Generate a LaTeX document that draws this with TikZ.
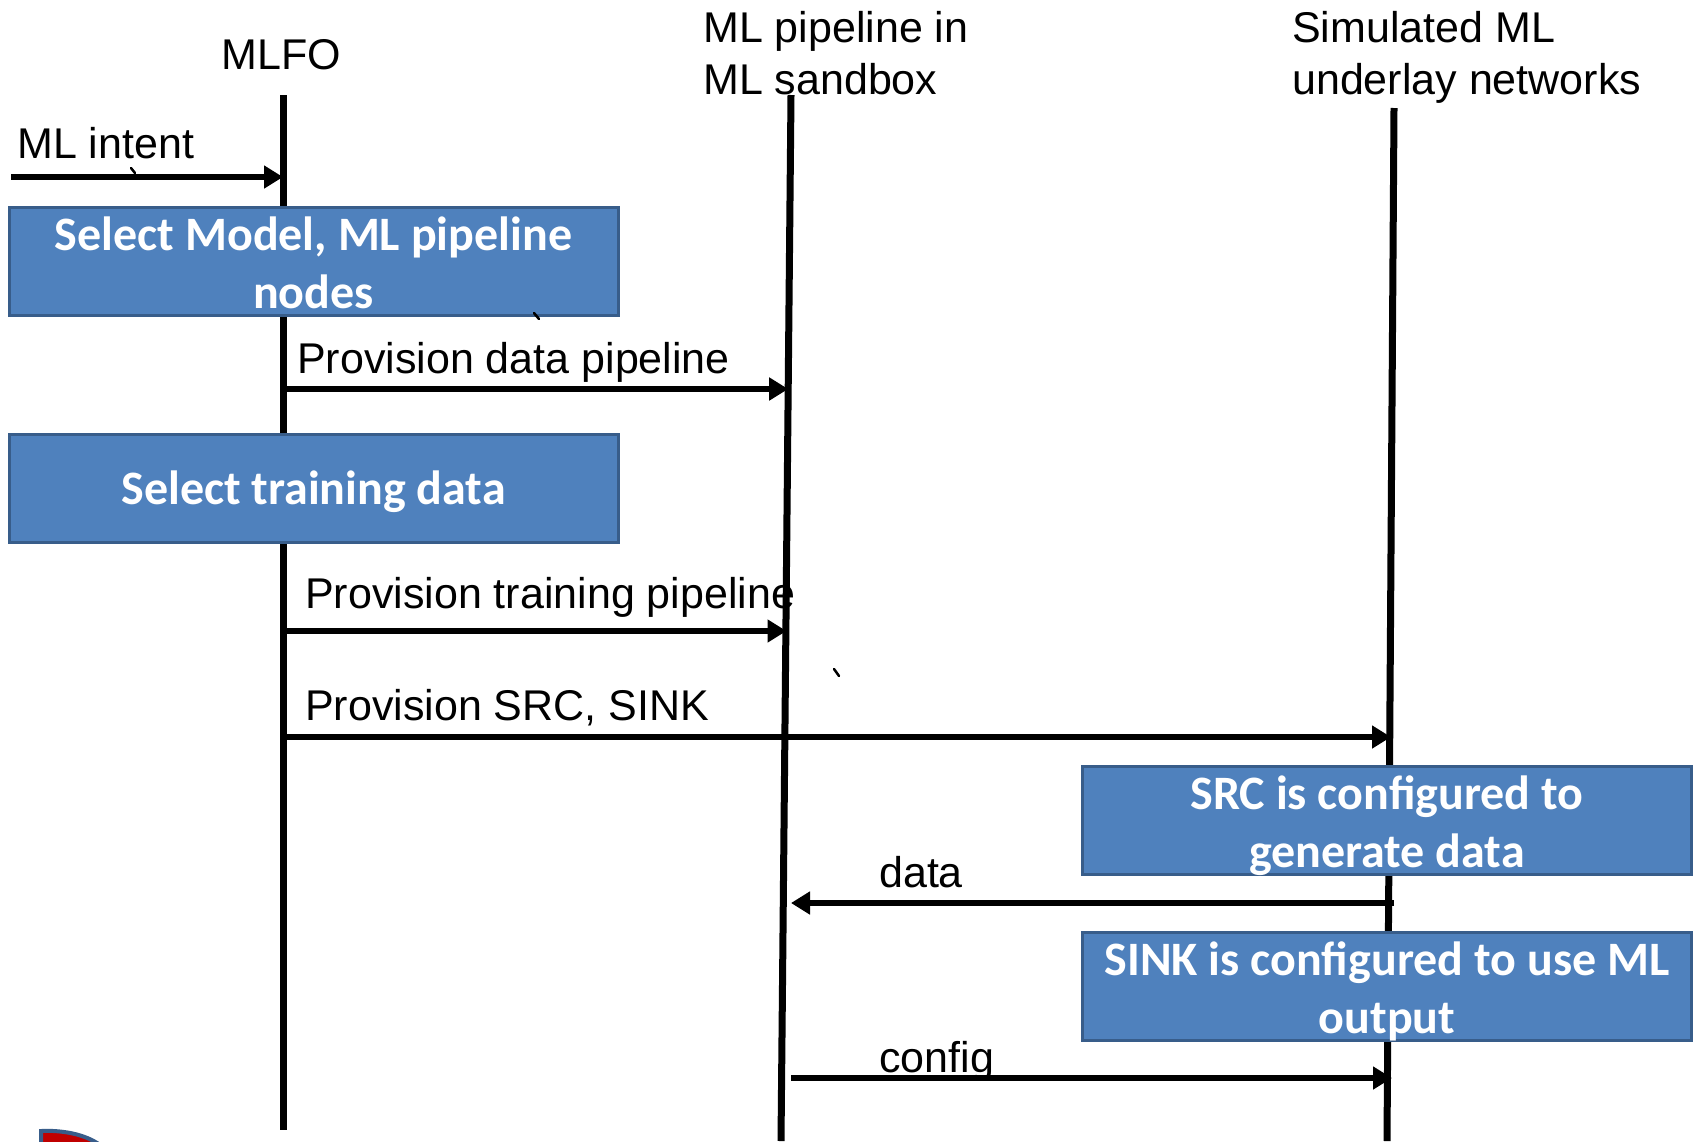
\documentclass[tikz,border=0pt]{standalone}
\usepackage{fontspec}
\setmainfont{Liberation Sans}
\newfontfamily\boxfont{Carlito}
\usetikzlibrary{arrows.meta}

\definecolor{boxfill}{RGB}{79,129,189}
\definecolor{boxline}{RGB}{56,93,138}
\definecolor{logored}{RGB}{192,0,0}

\tikzset{
  lifeline/.style={line width=7pt},
  msg/.style={line width=6pt, -{Triangle[length=19pt,width=22pt]}},
  label/.style={inner sep=0pt, font=\fontsize{43}{52}\selectfont},
  stepbox/.style={draw=boxline, line width=3pt, fill=boxfill,
    minimum width=609pt, minimum height=108pt, inner sep=0pt},
  steptext/.style={text=white, inner sep=0pt, align=center,
    font=\boxfont\bfseries\fontsize{48}{58}\selectfont},
  tick/.style={line width=2.5pt, line cap=round}
}

\begin{document}
\begin{tikzpicture}[x=1pt, y=-1pt]
\useasboundingbox (0,0) rectangle (1696,1141);

% lifeline headers
\node[label] (hMLFO) at (281,55) {MLFO};
\node[label, anchor=west, align=left] (hPipe) at (703,53) {ML pipeline in\\ML sandbox};
\node[label, anchor=west, align=left] (hSim) at (1292,57) {Simulated ML\\underlay networks};

% lifelines
\coordinate (mlfoT) at (283,95);
\coordinate (mlfoB) at (283,1130);
\coordinate (pipeT) at (791,95);
\coordinate (pipeB) at (781,1141);
\coordinate (simT) at (1394,108);
\coordinate (simB) at (1387,1141);
\draw[lifeline] (mlfoT) -- (mlfoB);
\draw[lifeline] (pipeT) -- (pipeB);
\draw[lifeline] (simT) -- (simB);

% message end points on the lifelines
\coordinate (in0) at (11,177);
\coordinate (m1) at (283,177);
\coordinate (m2) at (283,389);
\coordinate (p2) at (788.2,389);
\coordinate (m3) at (283,631);
\coordinate (p3) at (786.5,631);
\coordinate (m4) at (283,737);
\coordinate (s4) at (1391,737);
\coordinate (s5) at (1394,903);
\coordinate (p5) at (791,903);
\coordinate (p6) at (791,1078);
\coordinate (s6) at (1392,1078);

% activity boxes and their captions
\node[stepbox] (b1) at (313.5,261.5) {};
\node[stepbox] (b2) at (313.5,488) {};
\node[stepbox] (b3) at (1387,820.5) {};
\node[stepbox] (b4) at (1387,986.5) {};
\node[steptext] (t1) at ([yshift=-1pt]b1.center) {Select Model, ML pipeline\\nodes};
\node[steptext] (t2) at ([yshift=-4pt]b2.center) {Select training data};
\node[steptext] (t3) at ([yshift=-5pt]b3.center) {SRC is configured to\\generate data};
\node[steptext] (t4) at ([yshift=-5pt]b4.center) {SINK is configured to use ML\\output};

% messages
\draw[msg] (in0) -- (m1);
\node[label, anchor=west] (lIntent) at (17,143) {ML intent};
\draw[msg] (m2) -- (p2);
\node[label, anchor=west] (lData) at (297,362) {Provision data pipeline};
\draw[msg] (m3) -- (p3);
\node[label, anchor=west] (lTrain) at (305,597) {Provision training pipeline};
\draw[msg] (m4) -- (s4);
\node[label, anchor=west] (lSrc) at (305,708) {Provision SRC, SINK};
\draw[msg] (s5) -- (p5);
\node[label, anchor=west] (lD) at (879,872) {data};
\draw[msg] (p6) -- (s6);
\node[label, anchor=west] (lC) at (879,1061) {config};

% small stray strokes
\draw[tick] (131,168) -- (135,173);
\draw[tick] (534,313) -- (539,319);
\draw[tick] (834,669) -- (839,676);

% corner logo fragment
\draw[boxline, line width=4pt, fill=logored]
  (41,1145) -- (41,1131) .. controls (62,1130) and (85,1134) .. (100,1145);
\end{tikzpicture}
\end{document}
